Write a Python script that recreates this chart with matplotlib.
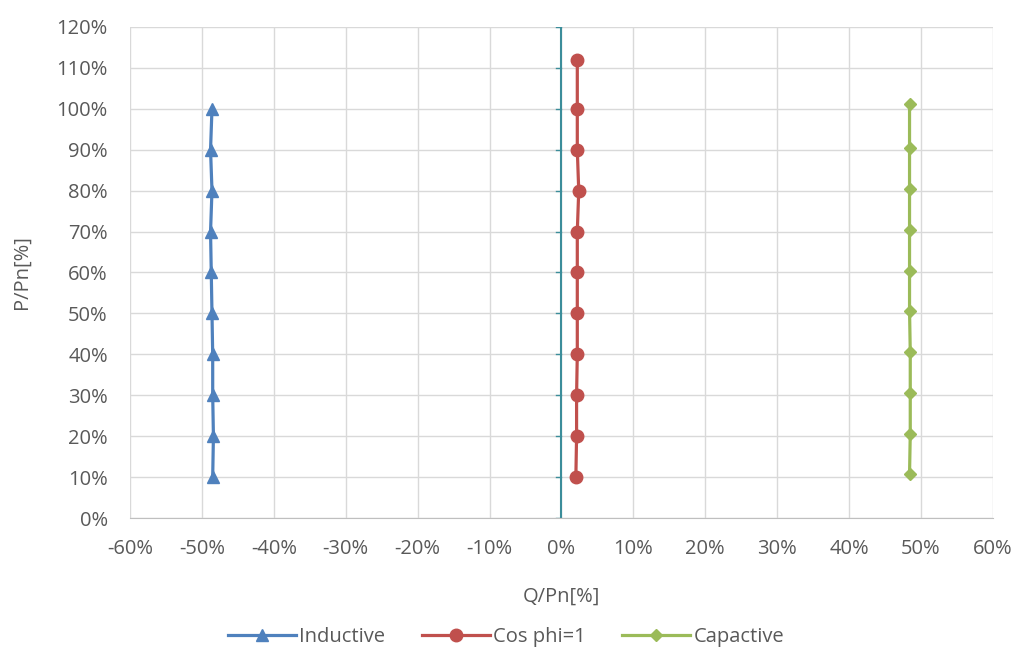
import numpy as np
import matplotlib.pyplot as plt
from matplotlib.ticker import FuncFormatter, MultipleLocator

plt.rcParams['font.family'] = ['Open Sans', 'DejaVu Sans']

# Q/Pn [%] and P/Pn [%] for each operating mode
inductive_q = [-48.5, -48.4, -48.5, -48.5, -48.6, -48.7, -48.8, -48.6, -48.8, -48.6]
inductive_p = [10, 20, 30, 40, 50, 60, 70, 80, 90, 100]

cosphi_q = [2.0, 2.1, 2.1, 2.2, 2.2, 2.2, 2.2, 2.4, 2.2, 2.2, 2.2]
cosphi_p = [10, 20, 30, 40, 50, 60, 70, 80, 90, 100, 112]

capactive_q = [48.4, 48.5, 48.5, 48.5, 48.4, 48.4, 48.4, 48.4, 48.4, 48.4]
capactive_p = [10.8, 20.5, 30.6, 40.6, 50.6, 60.4, 70.4, 80.4, 90.5, 101.2]

fig = plt.figure(figsize=(10.18, 6.53), dpi=100)
ax = fig.add_axes([0.1277, 0.2067, 0.8477, 0.752])

txt = '#595959'
fs = 14.5
ax.plot(inductive_q, inductive_p, color='#4F81BD', lw=2.3, marker='^', ms=9,
        label='Inductive', zorder=3)
ax.plot(cosphi_q, cosphi_p, color='#C0504D', lw=2.3, marker='o', ms=9,
        label='Cos phi=1', zorder=3)
ax.plot(capactive_q, capactive_p, color='#9BBB59', lw=2.3, marker='D', ms=6,
        label='Capactive', zorder=3)

ax.set_xlim(-60, 60)
ax.set_ylim(0, 120)
ax.xaxis.set_major_locator(MultipleLocator(10))
ax.yaxis.set_major_locator(MultipleLocator(10))
pct = FuncFormatter(lambda v, _: f'{v:.0f}%')
ax.xaxis.set_major_formatter(pct)
ax.yaxis.set_major_formatter(pct)
ax.grid(True, color='#d9d9d9', lw=1)
ax.set_axisbelow(True)

# vertical axis line crosses at Q = 0
ax.axvline(0, color='#3b8d9a', lw=1.5, zorder=2)
for y in range(0, 121, 10):
    ax.plot([-0.8, 0], [y, y], color='#3b8d9a', lw=1, zorder=2)

for s in ['top', 'right', 'left']:
    ax.spines[s].set_visible(False)
ax.spines['bottom'].set_color('#bfbfbf')
ax.tick_params(length=0, colors=txt, labelsize=fs)
ax.tick_params(axis='x', pad=15)
ax.tick_params(axis='y', pad=16)

ax.set_xlabel('Q/Pn[%]', color=txt, fontsize=fs, labelpad=20)
ax.set_ylabel('P/Pn[%]', color=txt, fontsize=fs, labelpad=18)

# legend is centred on the whole figure, below the axis title
handles, labels = ax.get_legend_handles_labels()
leg = fig.legend(handles, labels, loc='center', bbox_to_anchor=(0.497, 0.025),
                 ncol=3, frameon=False, fontsize=fs, handlelength=3.4,
                 columnspacing=1.8, handletextpad=0.15)
for t in leg.get_texts():
    t.set_color(txt)

fig.savefig('out.png', dpi=100)
